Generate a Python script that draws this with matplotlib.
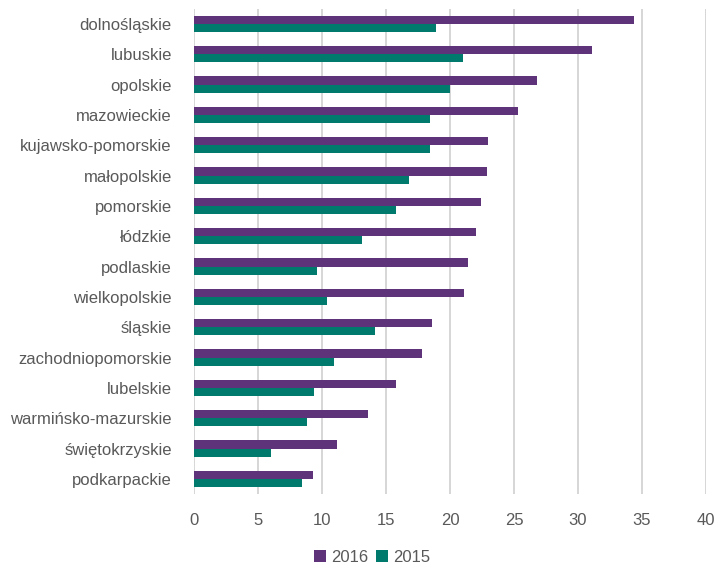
import numpy as np
import matplotlib.pyplot as plt

regions = ['dolnośląskie', 'lubuskie', 'opolskie', 'mazowieckie',
           'kujawsko-pomorskie', 'małopolskie', 'pomorskie', 'łódzkie',
           'podlaskie', 'wielkopolskie', 'śląskie', 'zachodniopomorskie',
           'lubelskie', 'warmińsko-mazurskie', 'świętokrzyskie', 'podkarpackie']
v2016 = [34.4, 31.1, 26.8, 25.3, 23.0, 22.9, 22.4, 22.0,
         21.4, 21.1, 18.6, 17.8, 15.8, 13.6, 11.2, 9.3]
v2015 = [18.9, 21.0, 20.0, 18.4, 18.4, 16.8, 15.8, 13.1,
         9.6, 10.4, 14.1, 10.9, 9.4, 8.8, 6.0, 8.4]

plt.rcParams['font.family'] = ['Liberation Sans', 'DejaVu Sans']

fig = plt.figure(figsize=(7.17, 5.66), dpi=100)
ax = fig.add_axes([0.2706, 0.1272, 0.7141, 0.8573])

y = np.arange(len(regions))
h = 0.27
ax.barh(y - h / 2, v2016, height=h, color='#5E3379', label='2016', zorder=3)
ax.barh(y + h / 2, v2015, height=h, color='#007A6D', label='2015', zorder=3)

ax.set_xlim(0, 40)
ax.set_ylim(len(regions) - 0.5, -0.5)
ax.set_xticks(range(0, 41, 5))
ax.set_yticks(y)
ax.set_yticklabels(regions)
ax.tick_params(axis='both', length=0, labelsize=12, colors='#595959')
ax.tick_params(axis='x', pad=14)
ax.tick_params(axis='y', pad=16)
ax.grid(axis='x', color='#D0D0D0', linewidth=1.2, zorder=0)
for s in ax.spines.values():
    s.set_visible(False)

ax.legend(loc='center', bbox_to_anchor=(0.348, -0.13), ncol=2,
          frameon=False, fontsize=12, handlelength=0.7, handleheight=0.7,
          columnspacing=0.5, handletextpad=0.3, labelcolor='#595959',
          borderpad=0.1, borderaxespad=0)

fig.savefig('out.png', dpi=100)
